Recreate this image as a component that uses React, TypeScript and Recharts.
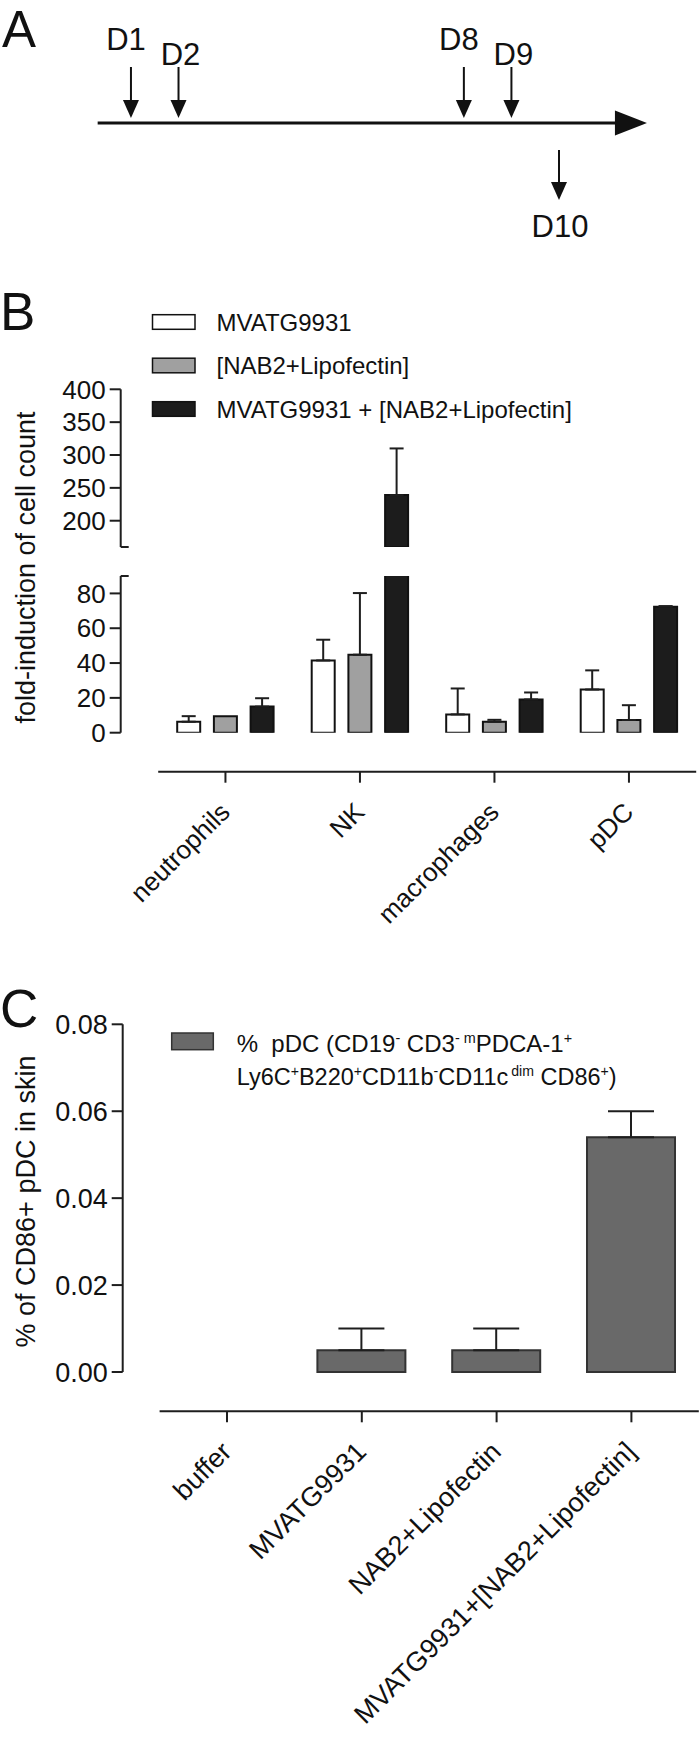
import React from "react";
import {
  BarChart,
  Bar,
  XAxis,
  YAxis,
  ErrorBar,
  ComposedChart,
  Scatter,
  ReferenceLine,
  Rectangle,
} from "recharts";

const FONT = "'Liberation Sans', Arial, Helvetica, sans-serif";
const INK = "#111";
const AXIS = "#1e1e1e";

// panel A: treatment schedule (days)
const doseDays = [1, 2, 8, 9];
const doseLabels = ["D1", "D2", "D8", "D9"];
const readoutDays = [10];
const readoutLabels = ["D10"];
const timelineSpan = [0.3, 11.85];

// panel B: fold-induction of cell count
const cellTypes = ["neutrophils", "NK", "macrophages", "pDC"];
const seriesNames = ["MVATG9931", "[NAB2+Lipofectin]", "MVATG9931 + [NAB2+Lipofectin]"];
const mvaMean = [6.3, 41.5, 10.5, 24.8];
const mvaSem = [3.2, 11.9, 14.9, 11.0];
const nabMean = [9.5, 44.8, 6.3, 7.3];
const nabSem = [0, 35.4, 1.1, 8.5];
const comboMean = [15.0, 239, 19.1, 72.4];
const comboSem = [4.8, 71, 4.0, 0.3];
const upperTicks = [160, 200, 250, 300, 350, 400];
const lowerTicks = [0, 20, 40, 60, 80, 90];

// panel C: % of CD86+ pDC in skin
const treatments = ["buffer", "MVATG9931", "NAB2+Lipofectin", "MVATG9931+[NAB2+Lipofectin]"];
const pdcMean = [0, 0.005, 0.005, 0.054];
const pdcSem = [0, 0.005, 0.005, 0.006];
const pdcTicks = [0, 0.02, 0.04, 0.06, 0.08];

const upErr = (v: number) => (v ? [0, v] : null);

const cellData = cellTypes.map((name, i) => ({
  name,
  mva: mvaMean[i],
  mvaErr: upErr(mvaSem[i]),
  nab: nabMean[i],
  nabErr: upErr(nabSem[i]),
  combo: comboMean[i],
  comboErr: upErr(comboSem[i]),
}));

const pdcData = treatments.map((name, i) => ({
  name,
  pct: pdcMean[i],
  pctErr: upErr(pdcSem[i]),
}));

const dosePoints = doseDays.map((day, i) => ({ day, level: 0, label: doseLabels[i] }));
const readoutPoints = readoutDays.map((day, i) => ({ day, level: 0, label: readoutLabels[i] }));

const seriesKeys = ["mva", "nab", "combo"];
const seriesFills = ["#ffffff", "#a0a0a0", "#1c1c1c"];

function ValueTick(props: any) {
  const { x, y, payload, cap, decimals, size } = props;
  const v = payload.value;
  if (v === cap) {
    return <line x1={x} x2={x + 8} y1={y} y2={y} stroke={AXIS} strokeWidth={2} />;
  }
  return (
    <g>
      <line x1={x - 11} x2={x} y1={y} y2={y} stroke={AXIS} strokeWidth={2} />
      <text x={x - 15} y={y} dy="0.355em" textAnchor="end" fontSize={size} fontFamily={FONT} fill={INK}>
        {v.toFixed(decimals)}
      </text>
    </g>
  );
}

function CategoryTick(props: any) {
  const { x, y, payload, size } = props;
  const tx = x + 6;
  const ty = y + 42;
  return (
    <g>
      <line x1={x} x2={x} y1={y} y2={y + 11} stroke={AXIS} strokeWidth={2} />
      <text
        x={tx}
        y={ty}
        textAnchor="end"
        transform={`rotate(-45 ${tx} ${ty})`}
        fontSize={size}
        fontFamily={FONT}
        fill={INK}
      >
        {payload.value}
      </text>
    </g>
  );
}

function TimelineArrow(props: any) {
  const { x1, y1, x2 } = props;
  return (
    <g>
      <line x1={x1} y1={y1} x2={x2 - 30} y2={y1} stroke={INK} strokeWidth={3} />
      <polygon points={`${x2},${y1} ${x2 - 32},${y1 - 12.5} ${x2 - 32},${y1 + 12.5}`} fill={INK} />
    </g>
  );
}

function DoseArrow(props: any) {
  const { cx, cy, payload } = props;
  const high = doseDays.indexOf(payload.day) % 2 === 0;
  return (
    <g>
      <line x1={cx} x2={cx} y1={cy - 56} y2={cy - 20} stroke={INK} strokeWidth={2} />
      <polygon points={`${cx},${cy - 5} ${cx - 8},${cy - 23} ${cx + 8},${cy - 23}`} fill={INK} />
      <text
        x={high ? cx - 5 : cx + 2}
        y={high ? cy - 73 : cy - 58}
        textAnchor="middle"
        fontSize={31}
        fontFamily={FONT}
        fill={INK}
      >
        {payload.label}
      </text>
    </g>
  );
}

function ReadoutArrow(props: any) {
  const { cx, cy, payload } = props;
  return (
    <g>
      <line x1={cx} x2={cx} y1={cy + 27} y2={cy + 62} stroke={INK} strokeWidth={2} />
      <polygon points={`${cx},${cy + 77} ${cx - 8},${cy + 59} ${cx + 8},${cy + 59}`} fill={INK} />
      <text x={cx + 1} y={cy + 114} textAnchor="middle" fontSize={31} fontFamily={FONT} fill={INK}>
        {payload.label}
      </text>
    </g>
  );
}

// bars whose value lies below the segment floor are left out of that segment
function cellBars(floor: number) {
  return seriesKeys.map((k, i) => (
    <Bar
      key={k}
      dataKey={k}
      fill={seriesFills[i]}
      stroke={INK}
      strokeWidth={2}
      barSize={23}
      isAnimationActive={false}
      shape={(p: any) => (p.payload[k] > floor ? <Rectangle {...p} /> : <g />)}
    >
      <ErrorBar dataKey={k + "Err"} width={7} stroke={AXIS} strokeWidth={2} direction="y" />
    </Bar>
  ));
}

function RichLine({ x, y, size, parts }: any) {
  let raised = false;
  return (
    <text x={x} y={y} fontSize={size} fontFamily={FONT} fill={INK} xmlSpace="preserve" style={{ whiteSpace: "pre" }}>
      {parts.map(([s, sup]: [string, boolean?], i: number) => {
        const lift = size * 0.38;
        const dy = sup && !raised ? -lift : !sup && raised ? lift : 0;
        raised = !!sup;
        return (
          <tspan key={i} dy={dy} dx={sup && s.startsWith("d") ? 3 : 0} fontSize={sup ? size * 0.6 : size}>
            {s}
          </tspan>
        );
      })}
    </text>
  );
}

const pdcLegend1 = [["%  pDC (CD19"], ["-", true], [" CD3"], ["- m", true], ["PDCA-1"], ["+", true]];
const pdcLegend2 = [
  ["Ly6C"], ["+", true], ["B220"], ["+", true], ["CD11b"], ["-", true], ["CD11c"],
  ["dim", true], [" CD86"], ["+", true], [")"],
];

const abs = (left: number, top: number, width: number, height: number, clip = false): React.CSSProperties => ({
  position: "absolute",
  left,
  top,
  width,
  height,
  overflow: clip ? "hidden" : "visible",
});

const axisLine = { stroke: AXIS, strokeWidth: 2 };

export default function App() {
  return (
    <div style={{ position: "absolute", left: 0, top: 0, width: 700, height: 1744, background: "#fff", overflow: "hidden" }}>
      {/* A: schedule */}
      <div style={abs(0, 0, 700, 250)}>
        <ComposedChart width={700} height={250} margin={{ top: 0, right: 45.9, bottom: 4, left: 83.4 }}>
          <XAxis type="number" dataKey="day" domain={[0, 12]} tickCount={5} hide />
          <YAxis type="number" dataKey="level" domain={[-1, 1]} tickCount={5} hide />
          <ReferenceLine
            segment={[
              { x: timelineSpan[0], y: 0 },
              { x: timelineSpan[1], y: 0 },
            ]}
            shape={(p: any) => <TimelineArrow {...p} />}
          />
          <Scatter data={dosePoints} shape={(p: any) => <DoseArrow {...p} />} isAnimationActive={false} />
          <Scatter data={readoutPoints} shape={(p: any) => <ReadoutArrow {...p} />} isAnimationActive={false} />
        </ComposedChart>
      </div>

      {/* B: upper segment of the broken axis */}
      <div style={abs(0, 370, 700, 190, true)}>
        <BarChart
          width={700}
          height={190}
          data={cellData}
          margin={{ top: 19.3, right: 3.8, bottom: 13, left: 0 }}
          barGap={13.7}
        >
          <XAxis dataKey="name" hide padding={{ left: 37.5, right: 0 }} />
          <YAxis
            width={120.7}
            domain={[160, 400]}
            ticks={upperTicks}
            tickCount={5}
            allowDataOverflow
            interval={0}
            tickSize={0}
            tickMargin={0}
            tickLine={false}
            axisLine={axisLine}
            tick={(p: any) => <ValueTick {...p} cap={160} decimals={0} size={26} />}
          />
          {cellBars(160)}
        </BarChart>
      </div>

      {/* B: lower segment */}
      <div style={abs(0, 560, 700, 190, true)}>
        <BarChart
          width={700}
          height={190}
          data={cellData}
          margin={{ top: 16, right: 3.8, bottom: 17.3, left: 0 }}
          barGap={13.7}
        >
          <XAxis dataKey="name" hide padding={{ left: 37.5, right: 0 }} />
          <YAxis
            width={120.7}
            domain={[0, 90]}
            ticks={lowerTicks}
            tickCount={10}
            allowDataOverflow
            interval={0}
            tickSize={0}
            tickMargin={0}
            tickLine={false}
            axisLine={axisLine}
            tick={(p: any) => <ValueTick {...p} cap={90} decimals={0} size={26} />}
          />
          {cellBars(-Infinity)}
        </BarChart>
      </div>

      {/* B: category axis */}
      <div style={abs(0, 700, 700, 260)}>
        <BarChart width={700} height={260} data={cellData} margin={{ top: 0, right: 3.8, bottom: 0, left: 158.2 }}>
          <XAxis
            dataKey="name"
            height={188.3}
            interval={0}
            tickSize={0}
            tickMargin={0}
            tickLine={false}
            axisLine={axisLine}
            tick={(p: any) => <CategoryTick {...p} size={26} />}
          />
          <YAxis hide domain={[0, 90]} tickCount={10} />
        </BarChart>
      </div>

      {/* C: bars */}
      <div style={abs(0, 1000, 700, 390)}>
        <BarChart width={700} height={390} data={pdcData} margin={{ top: 24.3, right: 1.2, bottom: 18, left: 0 }}>
          <XAxis dataKey="name" hide padding={{ left: 36.9, right: 0 }} />
          <YAxis
            width={122.7}
            domain={[0, 0.08]}
            ticks={pdcTicks}
            tickCount={5}
            interval={0}
            tickSize={0}
            tickMargin={0}
            tickLine={false}
            axisLine={axisLine}
            tick={(p: any) => <ValueTick {...p} decimals={2} size={27} />}
          />
          <Bar dataKey="pct" fill="#696969" stroke="#333" strokeWidth={2} barSize={88} isAnimationActive={false}>
            <ErrorBar dataKey="pctErr" width={23} stroke={AXIS} strokeWidth={2} direction="y" />
          </Bar>
        </BarChart>
      </div>

      {/* C: category axis */}
      <div style={abs(0, 1380, 700, 364)}>
        <BarChart width={700} height={364} data={pdcData} margin={{ top: 0, right: 1.2, bottom: 0, left: 159.6 }}>
          <XAxis
            dataKey="name"
            height={332.7}
            interval={0}
            tickSize={0}
            tickMargin={0}
            tickLine={false}
            axisLine={axisLine}
            tick={(p: any) => <CategoryTick {...p} size={27} />}
          />
          <YAxis hide domain={[0, 0.08]} tickCount={5} />
        </BarChart>
      </div>

      {/* panel letters, legends, axis titles */}
      <svg width={700} height={1744} style={{ position: "absolute", left: 0, top: 0, pointerEvents: "none" }}>
        <g fontFamily={FONT} fill={INK}>
          <text x={2} y={47} fontSize={51}>A</text>
          <text x={0} y={330} fontSize={53}>B</text>
          <text x={0} y={1027} fontSize={53}>C</text>

          {seriesNames.map((name, i) => {
            const cy = 322 + i * 43.5;
            return (
              <g key={name}>
                <rect x={152.5} y={cy - 7.3} width={42.5} height={14.6} fill={seriesFills[i]} stroke={INK} strokeWidth={1.5} />
                <text x={216.5} y={cy + 8.6} fontSize={24}>{name}</text>
              </g>
            );
          })}

          <text transform="translate(35 567.5) rotate(-90)" textAnchor="middle" fontSize={27}>
            fold-induction of cell count
          </text>
          <text transform="translate(35 1201.5) rotate(-90)" textAnchor="middle" fontSize={27}>
            % of CD86+ pDC in skin
          </text>

          <rect x={171.7} y={1033} width={41.6} height={16.7} fill="#696969" stroke="#333" strokeWidth={1.5} />
          <RichLine x={236.7} y={1052} size={24} parts={pdcLegend1} />
          <RichLine x={236.7} y={1085} size={23.5} parts={pdcLegend2} />
        </g>
      </svg>
    </div>
  );
}
